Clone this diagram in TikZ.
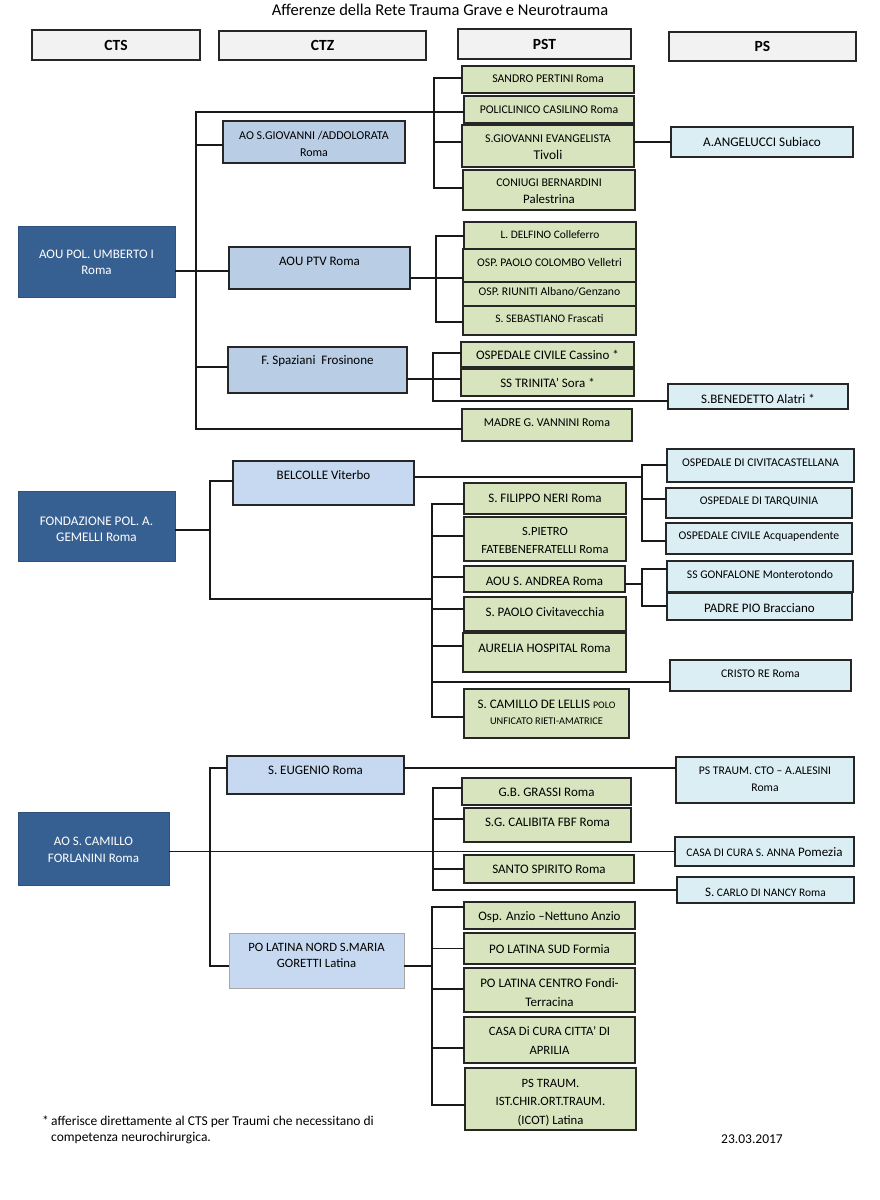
\documentclass[tikz,border=0pt]{standalone}
\usepackage{fontspec}
\setmainfont{Carlito}
\usetikzlibrary{calc}
\definecolor{ctsblue}{HTML}{376092}
\definecolor{ctzA}{HTML}{B9CDE5}
\definecolor{ctzB}{HTML}{C6D9F1}
\definecolor{pstgreen}{HTML}{D7E4BD}
\definecolor{pscyan}{HTML}{DBEEF4}
\definecolor{hdrgray}{HTML}{F2F2F2}
\newcommand\fs[2]{\fontsize{#1}{#2}\selectfont}
\newcommand\bx[9]{%
  \node[#2, minimum width={(#5-#3)*1pt}, minimum height={(#6-#4)*1pt}] (#1) at ({(#3+#5)/2},{(#4+#6)/2}) {};
  \node[#2txt,#8] (#1-t) at ({(#3+#5)/2},#7) {#9};}
\newcommand\tk[3]{\path ($(#1.west)+(0,#2)$) coordinate (#1-k); \draw[conn] (#1-k -| #3) -- (#1-k);}
\tikzset{
  boxbase/.style={rectangle, inner sep=0pt, line width=1.7pt, draw=black!85},
  txt/.style={inner sep=0pt, align=center, font=\fs{13}{16}},
  hdr/.style={boxbase, fill=hdrgray},
  hdrtxt/.style={txt, font=\fs{15.5}{17}\bfseries},
  cts/.style={rectangle, inner sep=0pt, fill=ctsblue, draw=ctsblue!85!black, line width=0.5pt},
  ctstxt/.style={txt, text=white, font=\fs{13}{16.5}},
  ctz/.style={boxbase, fill=ctzA},
  ctztxt/.style={txt},
  ctzb/.style={boxbase, fill=ctzB},
  ctzbtxt/.style={txt},
  ctzc/.style={rectangle, inner sep=0pt, fill=ctzB, draw=gray!70, line width=0.7pt},
  ctzctxt/.style={txt},
  pst/.style={boxbase, fill=pstgreen},
  psttxt/.style={txt},
  ps/.style={boxbase, fill=pscyan},
  pstxt/.style={txt},
  conn/.style={line width=1.4pt, draw=black!90, line cap=rect}
}
\begin{document}
\begin{tikzpicture}[x=1pt,y=-1pt]
\useasboundingbox (0,0) rectangle (879,1200);
\fill[white] (0,0) rectangle (879,1200);
\node[inner sep=0pt, font=\fs{16.5}{18}] (title) at (440,10) {Afferenze della Rete Trauma Grave e Neurotrauma};
% headers
\bx{hcts}{hdr}{32}{30}{200}{60}{45}{}{CTS}
\bx{hctz}{hdr}{219}{31}{426}{60}{45.5}{}{CTZ}
\bx{hpst}{hdr}{458}{29}{631}{59}{44.5}{}{PST}
\bx{hps}{hdr}{669}{32}{856}{61}{46.5}{}{PS}
% ---------- group 1
\bx{umb}{cts}{18}{226}{175}{297}{262.5}{}{AOU POL. UMBERTO I\\Roma}
\bx{sgv}{ctz}{223}{121}{405}{163}{143.5}{font=\fs{12}{17}}{AO S.GIOVANNI /ADDOLORATA\\Roma}
\bx{ptv}{ctz}{229}{247}{410}{289}{261}{}{AOU PTV Roma}
\bx{spz}{ctz}{228}{347}{407}{393}{361}{}{F. Spaziani\ \ Frosinone}
\bx{sp}{pst}{462}{66}{634}{93}{79}{font=\fs{11.8}{14}}{SANDRO PERTINI Roma}
\bx{pc}{pst}{464}{96}{634}{123}{110}{font=\fs{11.8}{14}}{POLICLINICO CASILINO Roma}
\bx{sge}{pst}{462}{125}{634}{167}{147.5}{font=\fs{12}{17}}{{\fs{11.9}{17}S.GIOVANNI EVANGELISTA}\\{\fs{13.4}{17}Tivoli}}
\bx{cb}{pst}{463}{170}{635}{210}{191.5}{font=\fs{12}{17}}{{\fs{11.8}{17}CONIUGI BERNARDINI}\\{\fs{12.9}{17}Palestrina}}
\bx{del}{pst}{464}{222}{636}{249}{235}{font=\fs{11.4}{14}}{L. DELFINO Colleferro}
\bx{col}{pst}{463}{249}{636}{282}{262}{font=\fs{11.7}{14}}{OSP. PAOLO COLOMBO Velletri}
\bx{riu}{pst}{463}{282}{636}{306}{292}{font=\fs{11.7}{14}}{OSP. RIUNITI Albano/Genzano}
\bx{seb}{pst}{463}{306}{636}{335}{319}{font=\fs{11.5}{14}}{S. SEBASTIANO Frascati}
\bx{cas}{pst}{461}{342}{634}{367}{355}{font=\fs{13}{15}}{OSPEDALE CIVILE Cassino *}
\bx{sor}{pst}{461}{369}{634}{396}{383}{font=\fs{13}{15}}{SS TRINITA’ Sora *}
\bx{mv}{pst}{462}{409}{632}{441}{423}{font=\fs{12}{14}}{MADRE G. VANNINI Roma}
\bx{ang}{ps}{671}{127}{853}{157}{142}{font=\fs{13.2}{15}}{A.ANGELUCCI Subiaco}
\bx{ben}{ps}{668}{384}{848}{409}{399}{font=\fs{13}{15}}{S.BENEDETTO Alatri *}
% ---------- group 2
\bx{gem}{cts}{18}{491}{175}{561}{529.5}{font=\fs{13.2}{15.5}}{FONDAZIONE POL. A.\\GEMELLI Roma}
\bx{bel}{ctzb}{233}{461}{414}{505}{475}{}{BELCOLLE Viterbo}
\bx{civ}{ps}{667}{449}{854}{482}{463}{font=\fs{11.8}{13}}{OSPEDALE DI CIVITACASTELLANA}
\bx{tar}{ps}{666}{488}{852}{518}{501}{font=\fs{11.7}{13}}{OSPEDALE DI TARQUINIA}
\bx{acq}{ps}{666}{523}{852}{554}{536}{font=\fs{11.8}{13}}{OSPEDALE CIVILE Acquapendente}
\bx{fil}{pst}{464}{483}{626}{514}{498}{}{S. FILIPPO NERI Roma}
\bx{pie}{pst}{464}{517}{626}{561}{540}{font=\fs{12.5}{18}}{S.PIETRO\\FATEBENEFRATELLI Roma}
\bx{sand}{pst}{464}{566}{625}{592}{581}{}{AOU S. ANDREA Roma}
\bx{gon}{ps}{667}{561}{853}{592}{574}{font=\fs{11.7}{13}}{SS GONFALONE Monterotondo}
\bx{pp}{ps}{667}{593}{852}{620}{608}{}{PADRE PIO Bracciano}
\bx{pao}{pst}{464}{597}{626}{631}{612}{}{S. PAOLO Civitavecchia}
\bx{aur}{pst}{463}{633}{626}{672}{648}{}{AURELIA HOSPITAL Roma}
\bx{cri}{ps}{670}{660}{851}{691}{674}{font=\fs{11.7}{13}}{CRISTO RE Roma}
\bx{cdl}{pst}{464}{689}{629}{738}{712}{font=\fs{13}{16}}{S. CAMILLO DE LELLIS {\fs{10}{16}POLO}\\{\fs{10.3}{16}UNFICATO RIETI-AMATRICE}}
% ---------- group 3
\bx{cam}{cts}{18}{812}{169}{885}{850}{}{AO S. CAMILLO\\FORLANINI Roma}
\bx{eug}{ctzb}{227}{756}{404}{794}{770}{}{S. EUGENIO Roma}
\bx{lat}{ctzc}{229}{933}{404}{988}{955}{font=\fs{12.7}{16}}{PO LATINA NORD S.MARIA\\GORETTI Latina}
\bx{ale}{ps}{676}{757}{854}{803}{779.5}{font=\fs{11.7}{17}}{PS TRAUM. CTO – A.ALESINI\\Roma}
\bx{gra}{pst}{462}{778}{631}{805}{792}{}{G.B. GRASSI Roma}
\bx{cal}{pst}{464}{808}{631}{842}{822}{}{S.G. CALIBITA FBF Roma}
\bx{csa}{ps}{675}{837}{854}{866}{852}{}{{\fs{11.6}{14}CASA DI CURA S. ANNA} Pomezia}
\bx{ssp}{pst}{464}{855}{634}{883}{869}{}{SANTO SPIRITO Roma}
\bx{nan}{ps}{677}{877}{854}{903}{892}{font=\fs{11.5}{13}}{{\fs{13}{15}S.} CARLO DI NANCY Roma}
\bx{anz}{pst}{464}{902}{635}{929}{917}{}{Osp. Anzio –Nettuno Anzio}
\bx{frm}{pst}{464}{933}{635}{964}{949}{}{PO LATINA SUD Formia}
\bx{cen}{pst}{464}{968}{635}{1012}{992.5}{font=\fs{13}{19}}{PO LATINA CENTRO Fondi-\\Terracina}
\bx{apr}{pst}{464}{1017}{635}{1063}{1040.5}{font=\fs{12.7}{19}}{CASA Di CURA CITTA’ DI\\APRILIA}
\bx{ico}{pst}{465}{1068}{636}{1130}{1102.5}{font=\fs{12.7}{18.5}}{PS TRAUM.\\IST.CHIR.ORT.TRAUM.\\(ICOT) Latina}
% footnote and date
\node[anchor=west, align=left, inner sep=0pt, font=\fs{13.5}{15.5}] (fn) at (42,1130) {\makebox[9pt][l]{*}afferisce direttamente al CTS per Traumi che necessitano di\\\hspace*{9pt}competenza neurochirurgica.};
\node[inner sep=0pt, font=\fs{13.5}{15}] (date) at (752,1139) {23.03.2017};
% ---------- connectors group 1
\coordinate (t1) at (196,112);
\coordinate (t1b) at (196,429);
\coordinate (b1) at (434,0);
\coordinate (b2) at (436,0);
\coordinate (b3) at (433,0);
\draw[conn] (t1) -- (t1b);
\draw[conn] (t1) -- (t1 -| pc.west);
\tk{sgv}{3}{t1}
\path ($(umb.east)+(0,9.5)$) coordinate (umb-e);
\draw[conn] (umb-e) -- (umb-e -| ptv.west);
\tk{spz}{-3}{t1}
\draw[conn] (t1b) -- (t1b -| mv.west);
\tk{sp}{-1.5}{b1}
\tk{sge}{-4}{b1}
\tk{cb}{-2}{b1}
\draw[conn] (sp-k -| b1) -- (cb-k -| b1);
\draw[conn] (ang.west -| sge.east) -- (ang.west);
\path ($(ptv.east)+(0,10)$) coordinate (ptv-e);
\draw[conn] (ptv-e) -- (ptv-e -| col.west);
\tk{del}{0.5}{b2}
\tk{seb}{1.5}{b2}
\draw[conn] (del-k -| b2) -- (seb-k -| b2);
\path ($(spz.east)+(0,9)$) coordinate (spz-e);
\draw[conn] (spz-e) -- (spz-e -| sor.west);
\tk{cas}{-1.5}{b3}
\tk{ben}{4.5}{b3}
\draw[conn] (cas-k -| b3) -- (ben-k -| b3);
% ---------- connectors group 2
\coordinate (t2) at (210,481);
\coordinate (t2b) at (210,599);
\coordinate (b4) at (642,0);
\coordinate (b5) at (432,0);
\draw[conn] (t2) -- (t2b);
\path ($(gem.east)+(0,4)$) coordinate (gem-e);
\draw[conn] (gem-e) -- (gem-e -| t2);
\draw[conn] (t2) -- (t2 -| bel.west);
\path ($(bel.east)+(0,-6)$) coordinate (bel-e);
\draw[conn] (bel-e) -- (bel-e -| b4);
\tk{civ}{-0.5}{b4}
\tk{tar}{-4}{b4}
\tk{acq}{2.5}{b4}
\draw[conn] (civ-k -| b4) -- (acq-k -| b4);
\draw[conn] (t2b) -- (t2b -| b5);
\tk{fil}{5.5}{b5}
\tk{pie}{-3}{b5}
\tk{sand}{-2}{b5}
\tk{pao}{-5}{b5}
\tk{aur}{-6.5}{b5}
\tk{cri}{6.5}{b5}
\tk{cdl}{3.5}{b5}
\draw[conn] (fil-k -| b5) -- (cdl-k -| b5);
\path ($(sand.east)+(0,5)$) coordinate (sand-e);
\draw[conn] (sand-e) -- (sand-e -| b4);
\tk{gon}{-7.5}{b4}
\tk{pp}{-0.5}{b4}
\draw[conn] (gon-k -| b4) -- (pp-k -| b4);
% ---------- connectors group 3
\coordinate (t3) at (210,768);
\coordinate (t3b) at (210,966);
\coordinate (b7) at (433,0);
\coordinate (b8) at (432,0);
\draw[conn] (t3) -- (t3b);
\draw[conn] (t3) -- (t3 -| eug.west);
\draw[conn] (t3 -| eug.east) -- (t3 -| ale.west);
\draw[conn] (cam.east |- csa.west) -- (csa.west);
\tk{gra}{-3.5}{b7}
\tk{cal}{-6}{b7}
\tk{ssp}{0}{b7}
\tk{nan}{0}{b7}
\draw[conn] (gra-k -| b7) -- (nan-k -| b7);
\draw[conn] (t3b) -- (t3b -| lat.west);
\path ($(lat.east)+(0,5.5)$) coordinate (lat-e);
\draw[conn] (lat-e) -- (lat-e -| b8);
\tk{anz}{-8.5}{b8}
\tk{frm}{0}{b8}
\tk{cen}{-1}{b8}
\tk{apr}{8}{b8}
\tk{ico}{6}{b8}
\draw[conn] (anz-k -| b8) -- (ico-k -| b8);
\end{tikzpicture}
\end{document}
